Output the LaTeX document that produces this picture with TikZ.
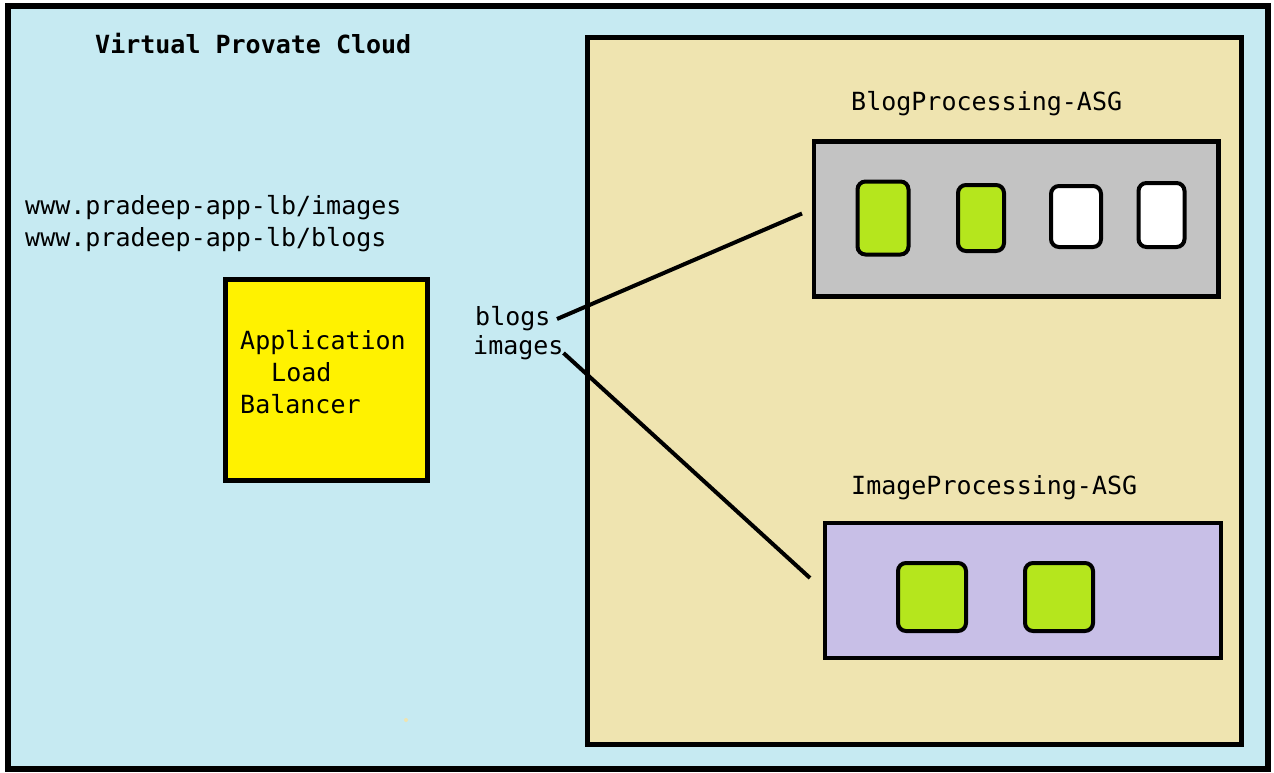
\documentclass[tikz,border=0pt]{standalone}
\usepackage{fontspec}
\setmonofont{DejaVu Sans Mono}
\definecolor{vpcblue}{HTML}{C6EAF2}
\definecolor{tan}{HTML}{EFE4B0}
\definecolor{asggray}{HTML}{C3C3C3}
\definecolor{lavender}{HTML}{C8BFE7}
\definecolor{lime}{HTML}{B5E61D}
\definecolor{lbyellow}{HTML}{FFF200}
\begin{document}
\begin{tikzpicture}[x=1pt,y=-1pt,
  txt/.style={font=\ttfamily\fontsize{25}{30}\selectfont, inner sep=0pt, anchor=base west},
  frame/.style={draw=black, line width=5pt},
  inst/.style={draw=black, line width=4pt, rounded corners=8pt, minimum width=#1, inner sep=0pt},
  conn/.style={draw=black, line width=4pt}
]
\useasboundingbox (0,0) rectangle (1274,773);
\fill[white] (0,0) rectangle (1274,773);
% outer VPC
\draw[frame, line width=6pt, fill=vpcblue] (8,6) rectangle (1268,769);
% subnet area
\draw[frame, fill=tan] (587.5,38) rectangle (1241,744);
% ALB
\draw[frame, fill=lbyellow] (225.5,279) rectangle (427,480);
% ASG boxes
\draw[frame, line width=4.5pt, fill=asggray] (814,141.5) rectangle (1218.5,296.5);
\draw[frame, line width=4.5pt, fill=lavender] (825,523) rectangle (1221,658);
% instances blog
\node[inst=51pt, minimum height=73pt, fill=lime] (b1) at (883,218) {};
\node[inst=46pt, minimum height=66pt, fill=lime] (b2) at (981,218) {};
\node[inst=50pt, minimum height=61pt, fill=white] (b3) at (1076,216.5) {};
\node[inst=46pt, minimum height=64pt, fill=white] (b4) at (1161.5,215) {};
% instances image
\node[inst=68pt, minimum height=68pt, fill=lime] (i1) at (932,597) {};
\node[inst=68pt, minimum height=68pt, fill=lime] (i2) at (1059,597) {};
% texts
\node[txt, font=\ttfamily\bfseries\fontsize{25}{30}\selectfont] (title) at (95,54) {Virtual Provate Cloud};
\node[txt] (url1) at (25,214) {www.pradeep-app-lb/images};
\node[txt] (url2) at (25,246) {www.pradeep-app-lb/blogs};
\node[txt] (alb1) at (240,349) {Application};
\node[txt] (alb2) at (271,381) {Load};
\node[txt] (alb3) at (240,413) {Balancer};
\node[txt] (lblogs) at (475,325) {blogs};
\node[txt] (limages) at (473,354.5) {images};
\node[txt] (blogasg) at (851,111) {BlogProcessing-ASG};
\node[txt] (imgasg) at (851,494) {ImageProcessing-ASG};
% connectors
\coordinate (bs) at (557,319);
\coordinate (be) at (802,213.5);
\coordinate (is) at (563.5,353);
\coordinate (ie) at (810,578);
\draw[conn] (bs) -- (be);
\draw[conn] (is) -- (ie);
% tiny dot
\fill[tan] (406,720) circle (2pt);
\end{tikzpicture}
\end{document}
